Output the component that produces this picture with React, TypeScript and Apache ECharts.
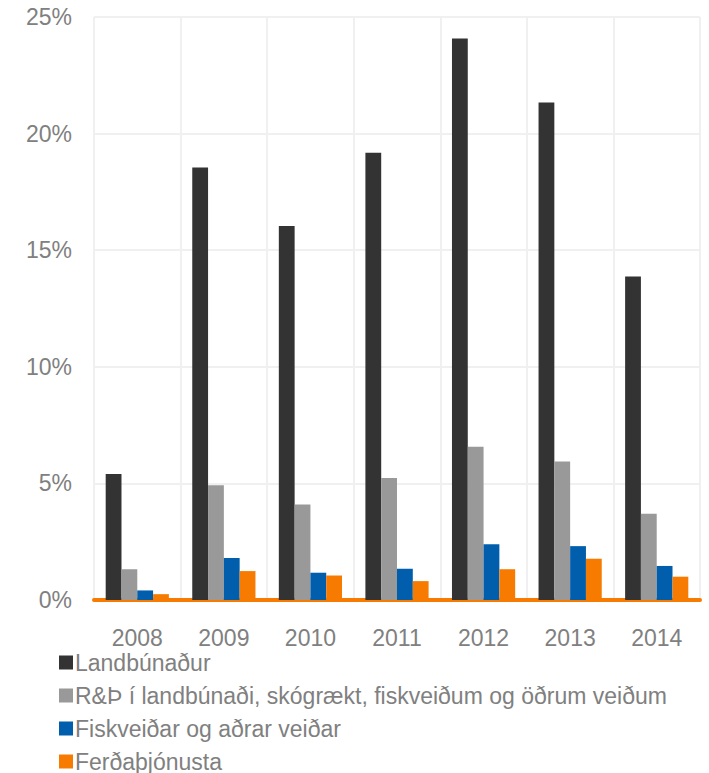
import React, { useEffect, useRef } from "react";
import * as echarts from "echarts";

const years = ["2008", "2009", "2010", "2011", "2012", "2013", "2014"];
const seriesNames = [
  "Landbúnaður",
  "R&Þ í landbúnaði, skógrækt, fiskveiðum og öðrum veiðum",
  "Fiskveiðar og aðrar veiðar",
  "Ferðaþjónusta",
];
const landbunadur = [5.4, 18.55, 16.04, 19.18, 24.08, 21.33, 13.87];
const rogth = [1.32, 4.92, 4.09, 5.23, 6.57, 5.94, 3.7];
const fiskveidar = [0.41, 1.8, 1.17, 1.34, 2.39, 2.31, 1.46];
const ferdathjonusta = [0.25, 1.24, 1.05, 0.81, 1.32, 1.77, 1.0];
const colors = ["#333333", "#999999", "#005EAC", "#F77B00"];

export default function App() {
  const ref = useRef<HTMLDivElement>(null);
  useEffect(() => {
    if (!ref.current) return;
    const chart = echarts.init(ref.current, null, { renderer: "svg" });
    const values = [landbunadur, rogth, fiskveidar, ferdathjonusta];
    const textColor = "#808080";
    const font = "Liberation Sans, Arial, sans-serif";
    chart.setOption({
      animation: false,
      color: colors,
      grid: { left: 94, right: 9, top: 17, bottom: 173, containLabel: false },
      legend: seriesNames.map((name, i) => ({
        orient: "horizontal",
        left: 59,
        top: 651 + i * 33,
        padding: 0,
        itemWidth: 14,
        itemHeight: 14,
        icon: "rect",
        textStyle: { color: textColor, fontSize: 23, fontFamily: font, padding: [0, 0, 0, -3] },
        data: [name],
      })),
      xAxis: {
        type: "category",
        data: years,
        axisLine: { show: true, lineStyle: { color: "#F77B00", width: 4 } },
        axisTick: { show: false },
        axisLabel: { color: textColor, fontSize: 23, fontFamily: font, margin: 26 },
        splitLine: { show: true, interval: 0, lineStyle: { color: "#F0F0F0", width: 2 } },
      },
      yAxis: {
        type: "value",
        min: 0,
        max: 25,
        interval: 5,
        axisLine: { show: false },
        axisTick: { show: false },
        axisLabel: {
          color: textColor,
          fontSize: 23,
          fontFamily: font,
          margin: 22,
          formatter: (v: number) => v + "%",
        },
        splitLine: { show: true, lineStyle: { color: "#F0F0F0", width: 2 } },
      },
      series: seriesNames.map((name, i) => ({
        name,
        type: "bar",
        data: values[i],
        barGap: "0%",
        barCategoryGap: "27%",
        itemStyle: { color: colors[i] },
      })),
    });
    return () => chart.dispose();
  }, []);
  return <div ref={ref} style={{ width: 709, height: 773, position: "absolute", left: 0, top: 0 }} />;
}
